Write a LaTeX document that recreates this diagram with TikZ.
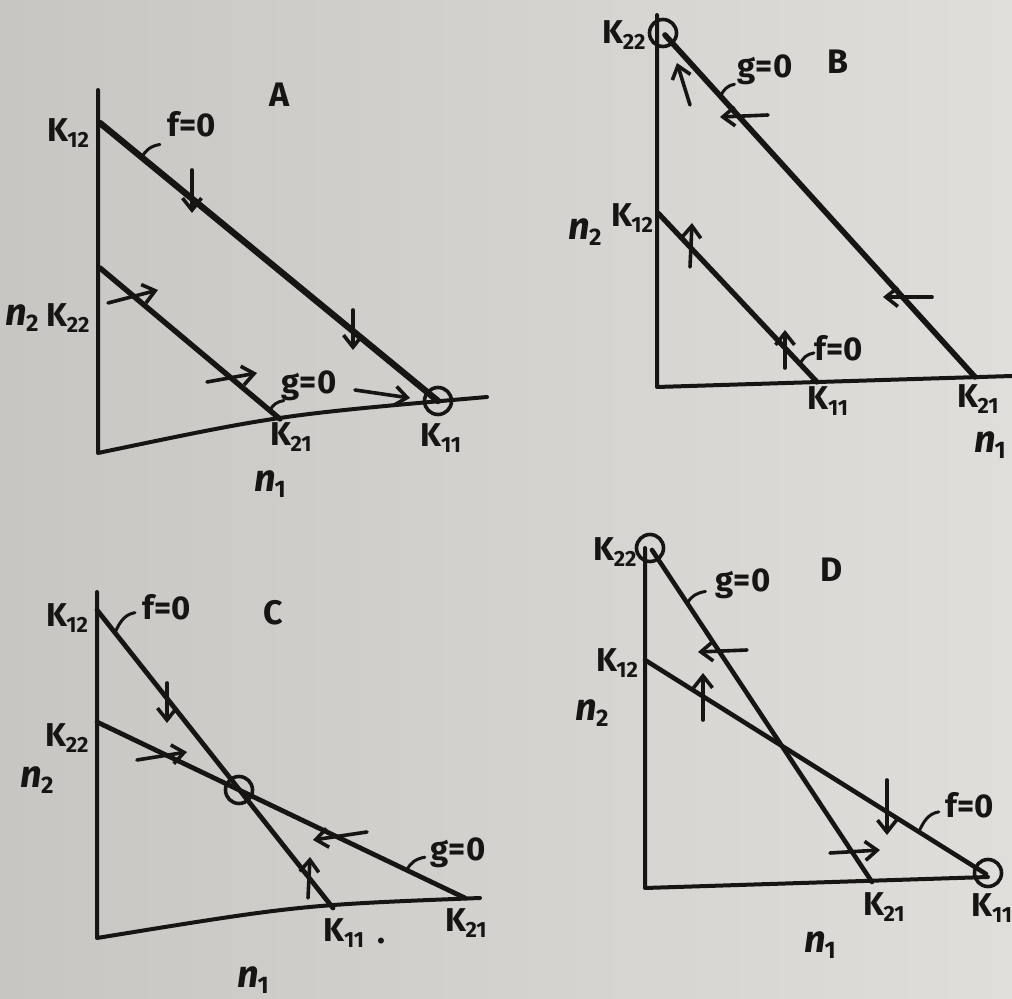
\documentclass[tikz,border=0pt]{standalone}
\usepackage{fontspec}
\setmainfont{Fira Sans}
\usetikzlibrary{arrows.meta,calc}
\definecolor{ink}{RGB}{22,21,20}
\definecolor{paperL}{RGB}{200,198,194}
\definecolor{paperR}{RGB}{224,222,218}
\newcommand\Ksub[1]{K\kern-0.3pt{\fontsize{11}{11}\selectfont\raisebox{-0.45ex}{#1}}}
\newcommand\nsub[1]{{\fontsize{19}{19}\selectfont\itshape n}\kern-0.5pt{\fontsize{12}{12}\selectfont\raisebox{-0.5ex}{#1}}}
\tikzset{
  lbl/.style={text=ink, font=\fontsize{16.5}{16.5}\selectfont\bfseries, inner sep=0pt},
  panel/.style={text=ink, font=\fontsize{17}{17}\selectfont\bfseries, inner sep=0pt},
  axis/.style={draw=ink, line width=2pt, line cap=round, line join=round},
  iso/.style={draw=ink, line width=2.4pt, line cap=round},
  flow/.style={draw=ink, line width=1.8pt, line cap=round, -{Straight Barb[length=6pt,width=9.5pt]}},
  lead/.style={draw=ink, line width=1.5pt, line cap=round},
  eq/.style={circle, draw=ink, line width=1.8pt, minimum size=13.5pt, inner sep=0pt},
}
\begin{document}
\begin{tikzpicture}[x=0.5pt,y=-0.5pt]
\useasboundingbox (0,0) rectangle (1012,999);
\shade[left color=paperL, right color=paperR] (0,0) rectangle (1012,999);

% ---------------- Panel A ----------------
\coordinate (A-top) at (98,90);
\coordinate (A-o) at (98,453);
\coordinate (A-end) at (487,397);
\coordinate (A-K12) at (100,123);
\coordinate (A-K11) at (438,401);
\coordinate (A-K22) at (100,268);
\coordinate (A-K21) at (280,419);
\draw[axis] (A-top) -- (A-o) .. controls (280,415) .. (A-end);
\draw[iso, line width=3.2pt] (A-K12) -- (A-K11);
\draw[iso, line width=2.7pt] (A-K22) -- (A-K21);
\node[eq] (A-eq) at (A-K11) {};
\draw[lead] ($(A-K12)!0.124!(A-K11)$) to[out=65,in=190] ++(18,-13);
\draw[lead] ($(A-K22)!0.944!(A-K21)$) to[out=65,in=190] ++(14,-10);
\node[panel] (A-name) at (280,95) {A};
\node[lbl] (A-f) at (192,124) {f=0};
\node[lbl] (A-g) at (309,386) {g=0};
\node[lbl] (A-l12) at (68,133) {\Ksub{12}};
\node[lbl] (A-l22) at (68,318) {\Ksub{22}};
\node[lbl] (A-n2) at (22,318) {\nsub{2}};
\node[lbl] (A-l21) at (291,437) {\Ksub{21}};
\node[lbl] (A-l11) at (441,438) {\Ksub{11}};
\node[lbl] (A-n1) at (270,484) {\nsub{1}};
\draw[flow] (192,170) -- (192,213);
\draw[flow] (353,310) -- (353,350);
\draw[flow] (108,303) -- (158,290);
\draw[flow] (207,382) -- (257,373);
\draw[flow] (355,390) -- (410,398);

% ---------------- Panel B ----------------
\coordinate (B-top) at (657,15);
\coordinate (B-o) at (657,387);
\coordinate (B-end) at (1012,376);
\coordinate (B-K22) at (665,35);
\coordinate (B-K21) at (975,377);
\coordinate (B-K12) at (658,213);
\coordinate (B-K11) at (817,382);
\draw[axis] (B-top) -- (B-o) -- (B-end);
\draw[iso, line width=2.8pt] (B-K22) -- (B-K21);
\draw[iso, line width=2.6pt] (B-K12) -- (B-K11);
\node[eq] (B-eq) at (663,33) {};
\draw[lead] ($(B-K22)!0.179!(B-K21)$) to[out=65,in=190] ++(14,-12);
\draw[lead] ($(B-K12)!0.893!(B-K11)$) to[out=65,in=190] ++(14,-11);
\node[panel] (B-name) at (838,62) {B};
\node[lbl] (B-g) at (765,70) {g=0};
\node[lbl] (B-f) at (839,348) {f=0};
\node[lbl] (B-l22) at (624,35) {\Ksub{22}};
\node[lbl] (B-l12) at (632,218) {\Ksub{12}};
\node[lbl] (B-n2) at (585,232) {\nsub{2}};
\node[lbl] (B-l11) at (828,401) {\Ksub{11}};
\node[lbl] (B-l21) at (978,399) {\Ksub{21}};
\node[lbl] (B-n1) at (990,445) {\nsub{1}};
\draw[flow] (690,105) -- (677,63);
\draw[flow] (768,115) -- (720,117);
\draw[flow] (690,267) -- (692,223);
\draw[flow] (932,297) -- (883,297);
\draw[flow] (785,368) -- (785,330);

% ---------------- Panel C ----------------
\coordinate (C-top) at (97,592);
\coordinate (C-o) at (97,938);
\coordinate (C-end) at (480,898);
\coordinate (C-K12) at (97,610);
\coordinate (C-K11) at (333,908);
\coordinate (C-K22) at (97,722);
\coordinate (C-K21) at (465,898);
\draw[axis] (C-top) -- (C-o) .. controls (300,905) .. (C-end);
\draw[iso] (C-K12) -- (C-K11);
\draw[iso] (C-K22) -- (C-K21);
\node[eq] (C-eq) at (239,790) {};
\draw[lead] ($(C-K12)!0.076!(C-K11)$) to[out=65,in=190] ++(20,-20);
\draw[lead] ($(C-K22)!0.842!(C-K21)$) to[out=65,in=190] ++(18,-13);
\node[panel] (C-name) at (273,613) {C};
\node[lbl] (C-f) at (167,607) {f=0};
\node[lbl] (C-g) at (458,853) {g=0};
\node[lbl] (C-l12) at (67,618) {\Ksub{12}};
\node[lbl] (C-l22) at (67,738) {\Ksub{22}};
\node[lbl] (C-n2) at (37,780) {\nsub{2}};
\node[lbl] (C-l11) at (344,933) {\Ksub{11}};
\node[lbl] (C-dot) at (381,941) {.};
\node[lbl] (C-l21) at (466,923) {\Ksub{21}};
\node[lbl] (C-n1) at (253,980) {\nsub{1}};
\draw[flow] (167,683) -- (167,723);
\draw[flow] (137,760) -- (187,752);
\draw[flow] (367,832) -- (313,840);
\draw[flow] (308,898) -- (310,857);

% ---------------- Panel D ----------------
\coordinate (D-top) at (645,548);
\coordinate (D-o) at (645,888);
\coordinate (D-end) at (988,877);
\coordinate (D-K22) at (652,550);
\coordinate (D-K21) at (872,882);
\coordinate (D-K12) at (645,660);
\coordinate (D-K11) at (986,874);
\draw[axis] (D-top) -- (D-o) -- (D-end);
\draw[iso, line width=2.3pt] (D-K22) -- (D-K21);
\draw[iso, line width=2.3pt] (D-K12) -- (D-K11);
\node[eq] (D-eq22) at (650,548) {};
\node[eq] (D-eq11) at (988,873) {};
\draw[lead] ($(D-K22)!0.161!(D-K21)$) to[out=65,in=190] ++(18,-12);
\draw[lead] ($(D-K12)!0.803!(D-K11)$) to[out=65,in=190] ++(20,-20);
\node[panel] (D-name) at (832,570) {D};
\node[lbl] (D-g) at (743,584) {g=0};
\node[lbl] (D-f) at (970,805) {f=0};
\node[lbl] (D-l22) at (615,552) {\Ksub{22}};
\node[lbl] (D-l12) at (617,663) {\Ksub{12}};
\node[lbl] (D-n2) at (592,713) {\nsub{2}};
\node[lbl] (D-l21) at (884,907) {\Ksub{21}};
\node[lbl] (D-l11) at (992,908) {\Ksub{11}};
\node[lbl] (D-n1) at (820,945) {\nsub{1}};
\draw[flow] (747,650) -- (698,652);
\draw[flow] (703,720) -- (703,673);
\draw[flow] (887,780) -- (887,835);
\draw[flow] (830,853) -- (880,850);
\end{tikzpicture}
\end{document}
